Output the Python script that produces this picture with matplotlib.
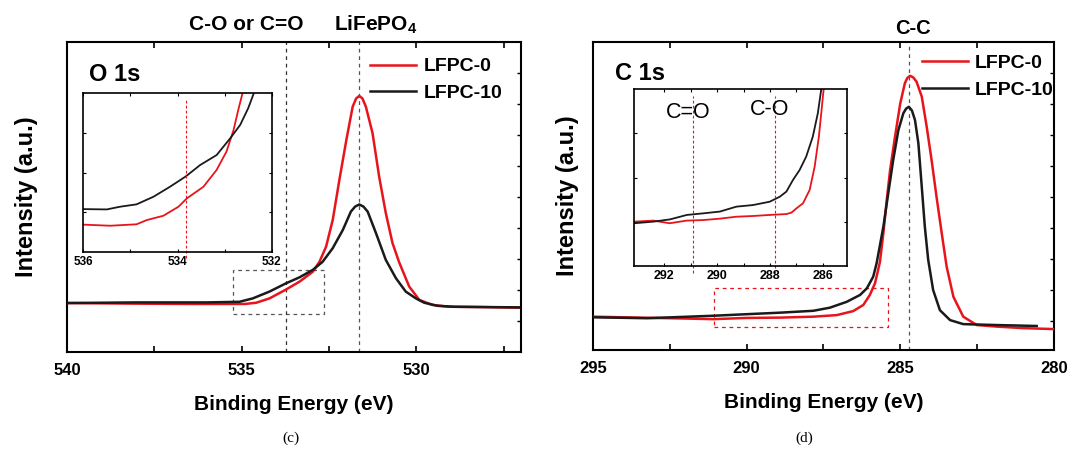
import numpy as np
import matplotlib
matplotlib.use('Agg')
import matplotlib.pyplot as plt
from matplotlib.patches import Rectangle

plt.rcParams['font.family'] = ['Liberation Sans', 'DejaVu Sans']
plt.rcParams['font.weight'] = 'bold'
plt.rcParams['mathtext.fontset'] = 'custom'
plt.rcParams['mathtext.rm'] = 'Liberation Sans:bold'
plt.rcParams['mathtext.bf'] = 'Liberation Sans:bold'

RED = '#e8141c'
BLK = '#1a1a1a'

# ---- O 1s main spectrum (binding energy, intensity a.u.)
o_be_red = [540.0, 538.0, 536.5, 535.6, 534.9, 534.58, 534.2, 533.72, 533.34, 532.96,
            532.77, 532.58, 532.39, 532.2, 532.0, 531.82, 531.72, 531.63, 531.54, 531.44,
            531.25, 531.06, 530.87, 530.68, 530.49, 530.2, 529.91, 529.54, 529.06,
            528.1, 527.06]
o_int_red = [15.8, 15.6, 15.5, 15.5, 15.5, 15.9, 17.3, 20.2, 22.7, 25.9,
             29.1, 34.0, 42.6, 55.5, 68.4, 79.1, 81.8, 82.6, 81.8, 79.1,
             70.6, 56.5, 44.8, 35.2, 29.0, 21.1, 16.8, 15.2, 14.6,
             14.5, 14.3]
o_be_blk = [540.0, 538.0, 536.0, 535.06, 534.68, 534.2, 533.72, 533.34, 532.96, 532.68,
            532.39, 532.1, 531.87, 531.75, 531.63, 531.51, 531.39, 531.15, 530.87, 530.58,
            530.3, 530.01, 529.77, 529.39, 528.9, 528.0, 527.06]
o_int_blk = [15.8, 16.0, 16.0, 16.2, 17.3, 19.5, 22.2, 24.1, 26.5, 29.1,
             33.5, 39.4, 45.3, 46.9, 47.6, 46.9, 45.3, 38.3, 29.7, 23.8,
             19.5, 17.3, 15.9, 14.9, 14.6, 14.5, 14.4]

# ---- O 1s inset (536-532 eV, normalised to inset height)
oi_be_red = [536.0, 535.43, 534.87, 534.65, 534.3, 533.98, 533.8, 533.45, 533.17,
             532.96, 532.81, 532.71, 532.62]
oi_int_red = [0.171, 0.164, 0.173, 0.2, 0.227, 0.284, 0.337, 0.41, 0.516,
              0.632, 0.768, 0.895, 1.0]
oi_be_blk = [536.0, 535.5, 535.22, 534.87, 534.51, 534.16, 533.83, 533.52, 533.17,
             532.88, 532.67, 532.5, 532.38]
oi_int_blk = [0.269, 0.267, 0.284, 0.299, 0.347, 0.41, 0.474, 0.547, 0.61,
              0.716, 0.8, 0.905, 1.0]

# ---- C 1s main spectrum
c_be_red = [295.0, 293.5, 292.0, 291.08, 290.0, 288.9, 287.83, 287.07, 286.53, 286.2,
            285.99, 285.82, 285.66, 285.55, 285.44, 285.33, 285.17, 285.0, 284.85,
            284.77, 284.68, 284.58, 284.47, 284.3, 284.14, 283.98, 283.82, 283.65,
            283.49, 283.27, 282.95, 282.51, 281.86, 281.0, 280.0]
c_int_red = [11.4, 11.1, 10.8, 10.6, 11.0, 11.1, 11.4, 11.9, 13.2, 15.2,
             18.4, 22.2, 29.1, 38.3, 49.0, 58.7, 69.5, 80.2, 86.7,
             88.4, 89.1, 88.6, 87.2, 82.4, 72.7, 61.9, 50.1, 38.3,
             27.5, 17.8, 11.4, 8.7, 8.2, 7.7, 7.4]
c_be_blk = [295.0, 293.25, 291.08, 290.0, 288.9, 287.83, 287.29, 286.74, 286.31, 286.09,
            285.88, 285.77, 285.55, 285.39, 285.23, 285.06, 284.9, 284.81, 284.72, 284.62,
            284.52, 284.41, 284.3, 284.2, 284.09, 283.93, 283.71, 283.38, 282.95,
            281.86, 280.56]
c_int_blk = [11.2, 10.9, 11.7, 12.2, 12.7, 13.3, 14.3, 16.2, 18.4, 20.5,
             24.3, 28.6, 40.4, 51.2, 61.9, 71.6, 77.0, 78.5, 79.1, 77.9,
             74.8, 67.3, 53.3, 40.4, 29.7, 20.0, 13.5, 10.3, 9.0,
             8.7, 8.4]

# ---- C 1s inset (293-285 eV)
ci_be_red = [293.14, 292.42, 291.8, 291.15, 290.53, 289.9, 289.27, 288.64, 288.01,
             287.38, 287.19, 287.0, 286.75, 286.5, 286.31, 286.15, 286.06, 285.97]
ci_int_red = [0.251, 0.257, 0.242, 0.257, 0.26, 0.268, 0.279, 0.283, 0.289,
              0.294, 0.302, 0.326, 0.355, 0.43, 0.562, 0.732, 0.864, 1.0]
ci_be_blk = [293.14, 292.42, 291.78, 291.15, 290.53, 289.9, 289.27, 288.64, 288.01,
             287.63, 287.38, 287.13, 286.88, 286.63, 286.38, 286.19, 286.06]
ci_int_blk = [0.242, 0.251, 0.264, 0.289, 0.298, 0.308, 0.336, 0.345, 0.364,
              0.392, 0.421, 0.487, 0.543, 0.619, 0.732, 0.864, 1.0]

labels = ['LFPC-0', 'LFPC-10']


def style_main(ax, xlim, major, minor, ypad):
    ax.set_xlim(*xlim)
    ax.set_xticks(major)
    ax.set_xticks(minor, minor=True)
    ax.set_yticks(np.arange(10, 100, 10))
    ax.tick_params(axis='x', which='both', direction='in', top=True, labelsize=12,
                   length=4, width=1.2, pad=8)
    ax.tick_params(axis='y', which='both', direction='in', left=False, right=True,
                   labelleft=False, length=3, width=1)
    for s in ax.spines.values():
        s.set_linewidth(1.5)
    for lab in ax.get_xticklabels():
        lab.set_fontweight('bold')
    ax.set_xlabel('Binding Energy (eV)', fontsize=15, fontweight='bold', labelpad=12)
    ax.set_ylabel('Intensity (a.u.)', fontsize=17, fontweight='bold', labelpad=ypad)


def style_inset(ax, xlim, major, minor, size):
    ax.set_xlim(*xlim)
    ax.set_ylim(0, 1)
    ax.set_xticks(major)
    ax.set_xticks(minor, minor=True)
    ax.set_yticks([0.25, 0.5, 0.75])
    ax.tick_params(axis='x', which='both', direction='in', top=True, labelsize=size,
                   length=2.5, width=0.8, pad=3)
    ax.tick_params(axis='y', direction='in', right=True, labelleft=False, length=2.5,
                   width=0.8)
    for s in ax.spines.values():
        s.set_linewidth(1.2)
    for lab in ax.get_xticklabels():
        lab.set_fontweight('bold')


fig = plt.figure(figsize=(10.68, 4.58), dpi=100)

# ---------------- (c) O 1s ----------------
ax1 = fig.add_axes([0.0627, 0.2314, 0.4251, 0.6769])
ax1.plot(o_be_red, o_int_red, color=RED, lw=1.8, label=labels[0], zorder=3)
ax1.plot(o_be_blk, o_int_blk, color=BLK, lw=1.8, label=labels[1], zorder=3)
ax1.set_ylim(0, 100)
style_main(ax1, (540, 527), [540, 535, 530], [537.5, 532.5, 527.5], 21)
ax1.axvline(533.74, color='#333333', lw=0.9, ls=(0, (3, 3)))
ax1.axvline(531.63, color='#555555', lw=0.9, ls=(0, (3, 3)))
ax1.add_patch(Rectangle((535.26, 12.2), 532.63 - 535.26, 26.5 - 12.2, fill=False,
                        ec='#555555', lw=0.9, ls=(0, (3, 3))))
ax1.text(534.87, 105.5, 'C-O or C=O', ha='center', va='center', fontsize=15,
         fontweight='bold', clip_on=False)
ax1.text(532.34, 105.5, r'LiFePO$_\mathbf{4}$', ha='left', va='center', fontsize=15,
         fontweight='bold', clip_on=False)
ax1.text(0.048, 0.875, 'O 1s', transform=ax1.transAxes, fontsize=17, fontweight='bold')
ax1.legend(loc='upper left', bbox_to_anchor=(0.667, 0.949), frameon=False,
           prop={'size': 14, 'weight': 'bold'}, handlelength=2.4, handletextpad=0.35,
           borderpad=0, borderaxespad=0, labelspacing=0.44)

ins1 = fig.add_axes([0.078, 0.4504, 0.1764, 0.3459])
ins1.plot(oi_be_red, oi_int_red, color=RED, lw=1.3)
ins1.plot(oi_be_blk, oi_int_blk, color=BLK, lw=1.3)
style_inset(ins1, (536, 532), [536, 534, 532], [535, 533], 8.5)
ins1.plot([533.83, 533.83], [-0.04, 0.97], color=RED, lw=0.8, ls=(0, (2.5, 2)),
          transform=ins1.get_xaxis_transform(), clip_on=False)

# ---------------- (d) C 1s ----------------
ax2 = fig.add_axes([0.5552, 0.2358, 0.4316, 0.6725])
ax2.plot(c_be_red, c_int_red, color=RED, lw=1.8, label=labels[0], zorder=3)
ax2.plot(c_be_blk, c_int_blk, color=BLK, lw=1.8, label=labels[1], zorder=3)
ax2.set_ylim(0.65, 100)
style_main(ax2, (295, 280), [295, 290, 285, 280], [292.5, 287.5, 282.5], 10)
ax2.axvline(284.72, color='#555555', lw=0.9, ls=(0, (3, 3)))
ax2.add_patch(Rectangle((291.06, 8.2), 285.39 - 291.06, 20.5 - 8.2, fill=False,
                        ec=RED, lw=0.9, ls=(0, (3, 3))))
ax2.text(284.6, 104.5, 'C-C', ha='center', va='center', fontsize=14.5,
         fontweight='bold', clip_on=False)
ax2.text(0.048, 0.875, 'C 1s', transform=ax2.transAxes, fontsize=17, fontweight='bold')
ax2.legend(loc='upper left', bbox_to_anchor=(0.713, 0.96), frameon=False,
           prop={'size': 14, 'weight': 'bold'}, handlelength=2.4, handletextpad=0.35,
           borderpad=0, borderaxespad=0, labelspacing=0.5)

ins2 = fig.add_axes([0.5936, 0.4192, 0.1991, 0.3858])
ins2.plot(ci_be_red, ci_int_red, color=RED, lw=1.3)
ins2.plot(ci_be_blk, ci_int_blk, color=BLK, lw=1.3)
style_inset(ins2, (293.15, 285.1), [292, 290, 288, 286], [291, 289, 287], 9)
for xv in [290.93, 287.82]:
    ins2.plot([xv, xv], [-0.04, 0.96], color=RED, lw=0.8, ls=(0, (2.5, 2)),
              transform=ins2.get_xaxis_transform(), clip_on=False)
ins2.text(291.1, 0.866, 'C=O', ha='center', va='center', fontsize=15.5,
          fontweight='normal')
ins2.text(288.01, 0.883, 'C-O', ha='center', va='center', fontsize=15.5,
          fontweight='normal')

# captions
fig.text(291 / 1068, 1 - 438 / 458, '(c)', ha='center', va='center', fontsize=11,
         family='Liberation Serif', fontweight='normal')
fig.text(804 / 1068, 1 - 438 / 458, '(d)', ha='center', va='center', fontsize=11,
         family='Liberation Serif', fontweight='normal')

fig.savefig('out.png', dpi=100)
